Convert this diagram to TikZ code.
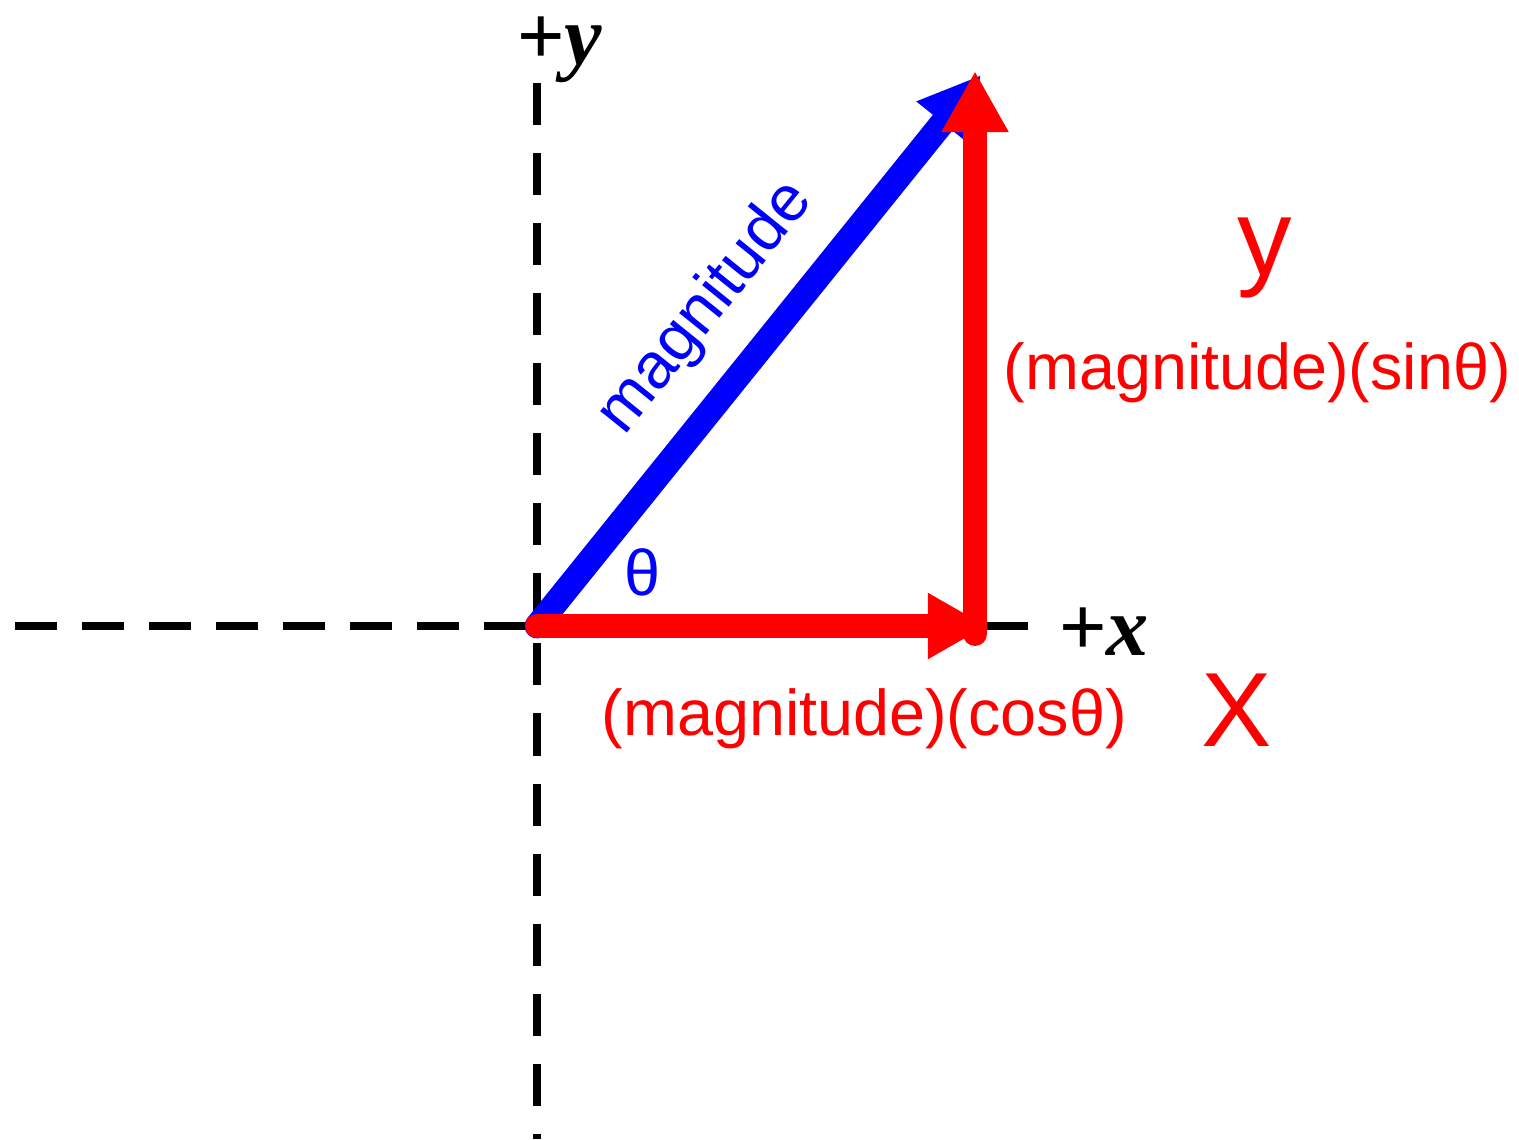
\documentclass[tikz,border=0pt]{standalone}
\usepackage{fontspec}
\setmainfont{Liberation Sans}
\newfontfamily\axisfont{Liberation Serif}
\usepackage{tikz}
\usetikzlibrary{arrows.meta,positioning}

\begin{document}
\begin{tikzpicture}[
  x=0.01cm, y=-0.01cm,
  axisline/.style={draw=black,line width=2pt},
  vec/.style={line width=6.8pt,line cap=round,-{Triangle[length=17.4pt,width=17.9pt]}},
  lbl/.style={inner sep=0pt,font=\fontsize{18.4}{22}\selectfont},
  axlbl/.style={inner sep=0pt,font=\axisfont\bfseries\itshape\fontsize{24}{28}\selectfont},
  hand/.style={inner sep=0pt,red,font=\fontsize{31}{36}\selectfont},
]
\useasboundingbox (0,0) rectangle (1519,1139);

% axes
\coordinate (xaxisL) at (15,626);
\coordinate (origin) at (537,626);
\coordinate (xaxisR) at (1028,626);
\coordinate (yaxisT) at (537,83);
\coordinate (yaxisB) at (537,1139);
\draw[axisline,dash pattern=on 11.95pt off 7.1pt] (xaxisL) -- (origin);
\draw[axisline,dash pattern=on 11.95pt off 7.1pt] (xaxisR) -- (origin);
\draw[axisline,dash pattern=on 11.95pt off 7.97pt] (yaxisT) -- (yaxisB);
\node[axlbl,anchor=base west] (ylab) at (516,64) {+y};
\node[axlbl,anchor=base west] (xlab) at (1058,655) {+x};

% vectors
\coordinate (tipB) at (981,75);
\coordinate (tipX) at (987,626);
\coordinate (footY) at (975,634);
\coordinate (tipY) at (975,71);
\draw[vec,blue,line width=7.1pt] (origin) -- (tipB)
  node[pos=0.5,sloped,above=0.25cm,inner sep=0pt,font=\fontsize{18.4}{22}\selectfont] (maglab) {magnitude};
\draw[vec,red,-{Triangle[length=16.8pt,width=17.6pt]}] (origin) -- (tipX);
\draw[vec,red] (footY) -- (tipY);

% labels
\node[lbl,blue,anchor=base] (theta) at (642,595) {θ};
\node[lbl,red,anchor=base west] (coslab) at (601,735) {(magnitude)(cosθ)};
\node[lbl,red,anchor=base west] (sinlab) at (1003,389) {(magnitude)(sinθ)};
\node[hand] (yhand) at (1265,258) {y};
\node[hand,font=\fontsize{30}{36}\selectfont] (xhand) at (1237,710) {X};
\end{tikzpicture}
\end{document}
